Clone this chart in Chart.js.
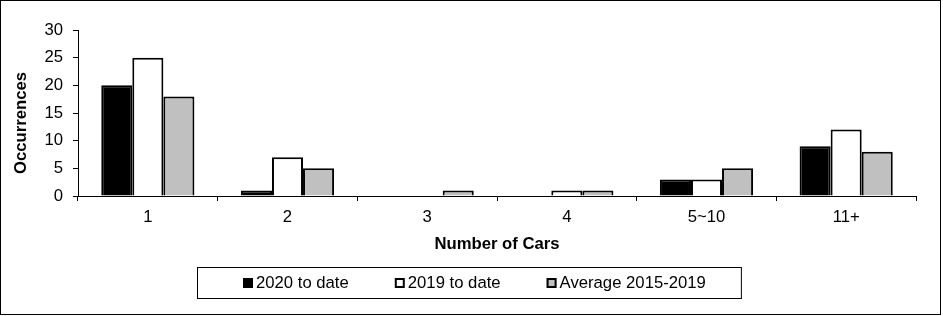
<!DOCTYPE html>
<html>
<head>
<meta charset="utf-8">
<script src="https://cdn.jsdelivr.net/npm/chart.js@4.4.1/dist/chart.umd.min.js"></script>
<style>
  html, body { margin: 0; padding: 0; background: #ffffff; }
  canvas { display: block; }
</style>
</head>
<body>
<canvas id="c" width="943" height="316"></canvas>
<script>
const categories = ['1', '2', '3', '4', '5~10', '11+'];
const seriesNames = ['2020 to date', '2019 to date', 'Average 2015-2019'];
const values2020 = [20, 1, 0, 0, 3, 9];
const values2019 = [25, 7, 0, 1, 3, 12];
const valuesAvg = [18, 5, 1, 1, 5, 8];
const yTicks = [0, 5, 10, 15, 20, 25, 30];
const xTitle = 'Number of Cars';
const yTitle = 'Occurrences';

const FONT = "'Liberation Sans', Arial, sans-serif";
const FS = 16.7;
const colors = ['#000000', '#ffffff', '#c0c0c0'];

const frameAndLegend = {
  id: 'frameAndLegend',
  beforeDraw(chart) {
    const ctx = chart.ctx;
    ctx.save();
    ctx.fillStyle = '#ffffff';
    ctx.fillRect(0, 0, chart.width, chart.height);
    ctx.restore();
  },
  afterDraw(chart) {
    const ctx = chart.ctx;
    const area = chart.chartArea;
    ctx.save();
    // outer frame
    ctx.strokeStyle = '#000000';
    ctx.lineWidth = 1;
    ctx.strokeRect(0.5, 0.5, chart.width - 3, chart.height - 2);

    // y axis title
    ctx.save();
    ctx.font = 'bold ' + FS + 'px ' + FONT;
    ctx.fillStyle = '#000000';
    ctx.textAlign = 'center';
    ctx.textBaseline = 'middle';
    ctx.translate(21, (area.top + area.bottom) / 2 + 10);
    ctx.rotate(-Math.PI / 2);
    ctx.fillText(yTitle, 0, 0);
    ctx.restore();

    // legend
    ctx.font = FS + 'px ' + FONT;
    const sq = 10, textGap = 3, itemGap = 46;
    const items = chart.data.datasets.map(ds => ({
      label: ds.label, color: ds.backgroundColor, w: sq + textGap + ctx.measureText(ds.label).width
    }));
    const total = items.reduce((a, it) => a + it.w, 0) + itemGap * (items.length - 1);
    const xScale = chart.scales.x;
    const boxTop = Math.round(xScale.bottom) + 13;
    const boxH = 31;
    const cy = boxTop + boxH / 2;
    let x = Math.round(chart.width / 2 + 3 - total / 2);
    const boxLeft = x - 46, boxRight = x + total + 35;
    ctx.strokeRect(boxLeft + 0.5, boxTop + 0.5, boxRight - boxLeft, boxH);
    ctx.textBaseline = 'middle';
    ctx.textAlign = 'left';
    items.forEach(it => {
      const sy = Math.round(cy - sq / 2);
      ctx.fillStyle = it.color;
      ctx.fillRect(x, sy, sq, sq);
      ctx.lineWidth = 2;
      ctx.strokeStyle = '#000000';
      ctx.strokeRect(x + 1, sy + 1, sq - 2, sq - 2);
      ctx.fillStyle = '#000000';
      ctx.fillText(it.label, x + sq + textGap, cy + 1);
      x += it.w + itemGap;
    });
    ctx.restore();
  }
};

const datasets = [values2020, values2019, valuesAvg].map((vals, i) => ({
  label: seriesNames[i],
  data: vals,
  backgroundColor: colors[i],
  borderColor: '#000000',
  borderWidth: 2,
  borderSkipped: 'start',
  categoryPercentage: 0.667,
  barPercentage: 1.0
}));

new Chart(document.getElementById('c'), {
  type: 'bar',
  data: { labels: categories, datasets },
  options: {
    responsive: false,
    animation: false,
    devicePixelRatio: 1,
    layout: { padding: { left: 0, right: 27, top: 30, bottom: 62 } },
    plugins: {
      legend: { display: false },
      tooltip: { enabled: false }
    },
    scales: {
      x: {
        offset: true,
        grid: {
          display: true, offset: true, drawOnChartArea: false, drawTicks: true,
          tickLength: 5, color: '#000000', lineWidth: 1
        },
        border: { display: true, color: '#000000', width: 1 },
        ticks: { color: '#000000', font: { family: FONT, size: FS }, padding: 6, maxRotation: 0 },
        title: {
          display: true, text: xTitle, color: '#000000',
          font: { family: FONT, size: FS, weight: 'bold' }, padding: { top: 0, bottom: 0 }
        },
        afterFit(s) { s.height = 58; }
      },
      y: {
        min: 0, max: 30,
        afterBuildTicks(s) { s.ticks = yTicks.map(v => ({ value: v })); },
        grid: {
          display: true, drawOnChartArea: false, drawTicks: true,
          tickLength: 5, color: '#000000', lineWidth: 1
        },
        border: { display: true, color: '#000000', width: 1 },
        ticks: { color: '#000000', font: { family: FONT, size: FS }, padding: 10 },
        title: { display: false },
        afterFit(s) { s.width = 78; }
      }
    }
  },
  plugins: [frameAndLegend]
});
</script>
</body>
</html>
